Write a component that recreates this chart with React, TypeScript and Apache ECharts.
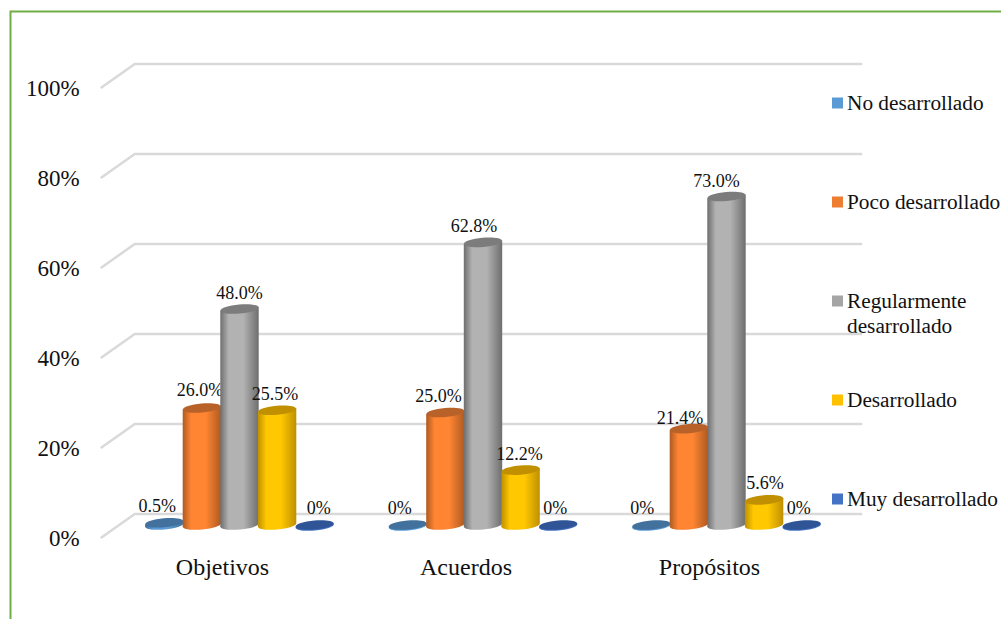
import React, { useEffect, useRef } from "react";
import * as echarts from "echarts";

const categories = ["Objetivos", "Acuerdos", "Propósitos"];
const yTicks = [0, 20, 40, 60, 80, 100];
const noDesarrollado = [0.5, 0, 0];
const pocoDesarrollado = [26.0, 25.0, 21.4];
const regularmenteDesarrollado = [48.0, 62.8, 73.0];
const desarrollado = [25.5, 12.2, 5.6];
const muyDesarrollado = [0, 0, 0];

const SERIF = "'Liberation Serif', 'Times New Roman', serif";

// Depth of the pseudo-3D floor: the bars stand half way along it.
const DEPTH_X = 34;
const DEPTH_Y = 24;
const WALL_TRIM = 3;
const SLOT = 37.6;
const RX = 19.2;
const RY = 4.6;
const TILT = 0.085;

type Look = {
  name: string;
  values: number[];
  swatch: string;
  edge: string;
  mid: string;
  cap: string;
  rim: string;
  legendY: number;
  nudges: [number, number][];
};

const looks: Look[] = [
  {
    name: "No desarrollado",
    values: noDesarrollado,
    swatch: "#5B9BD5",
    edge: "#41719C",
    mid: "#5B9BD5",
    cap: "#41719C",
    rim: "#5B9BD5",
    legendY: 103,
    nudges: [[-7, -17], [-8, -17], [-9, -17]],
  },
  {
    name: "Poco desarrollado",
    values: pocoDesarrollado,
    swatch: "#ED7D31",
    edge: "#AE5A21",
    mid: "#FF8533",
    cap: "#B8622A",
    rim: "#AE5A21",
    legendY: 202,
    nudges: [[-2, -18], [-7, -17], [-9, -11]],
  },
  {
    name: "Regularmente\ndesarrollado",
    values: regularmenteDesarrollado,
    swatch: "#A5A5A5",
    edge: "#6E6E6E",
    mid: "#B2B2B2",
    cap: "#7C7C7C",
    rim: "#6E6E6E",
    legendY: 301,
    nudges: [[0, -16], [-9, -16], [-10, -16]],
  },
  {
    name: "Desarrollado",
    values: desarrollado,
    swatch: "#FFC000",
    edge: "#BF9000",
    mid: "#FFC800",
    cap: "#C09000",
    rim: "#BF9000",
    legendY: 400,
    nudges: [[-2, -16], [-1, -16], [1, -17]],
  },
  {
    name: "Muy desarrollado",
    values: muyDesarrollado,
    swatch: "#4472C4",
    edge: "#2F5597",
    mid: "#4472C4",
    cap: "#2F5597",
    rim: "#4472C4",
    legendY: 499,
    nudges: [[4, -17], [-3, -17], [-3, -17]],
  },
];

const formatValue = (v: number) => (v === 0 ? "0%" : `${v.toFixed(1)}%`);

// Floor lines and back-wall rules, one bent line per value tick.
function renderGridLine(params: any, api: any) {
  const sys = params.coordSys;
  const y = api.coord([0, api.value(1)])[1];
  return {
    type: "polyline",
    silent: true,
    shape: {
      points: [
        [sys.x, y],
        [sys.x + DEPTH_X, y - DEPTH_Y],
        [sys.x + sys.width + DEPTH_X - WALL_TRIM, y - DEPTH_Y],
      ],
    },
    style: { stroke: "#D9D9D9", lineWidth: 2.5, fill: "none" },
  };
}

// Cylinder built from a bottom disc, a shaded body and a darker top disc.
function cylinderRenderer(look: Look, slotIndex: number) {
  return (params: any, api: any) => {
    const value = api.value(1);
    const cat = api.value(0);
    const base = api.coord([cat, 0]);
    const top = api.coord([cat, value]);
    const cx = base[0] + DEPTH_X / 2 + (slotIndex - 2) * SLOT;
    const yBase = base[1] - DEPTH_Y / 2 - 1;
    const yTop = top[1] - DEPTH_Y / 2 - 1;
    const lift = Math.sin(TILT) * RX;
    const shade = new echarts.graphic.LinearGradient(0, 0, 1, 0, [
      { offset: 0, color: look.edge },
      { offset: 0.22, color: look.mid },
      { offset: 0.6, color: look.mid },
      { offset: 1, color: look.edge },
    ]);
    const disc = (cy: number, fill: any) => ({
      type: "ellipse",
      x: cx,
      y: cy,
      rotation: TILT,
      shape: { cx: 0, cy: 0, rx: RX, ry: RY },
      style: { fill },
    });
    const [dx, dy] = look.nudges[params.dataIndex];
    return {
      type: "group",
      silent: true,
      children: [
        disc(yBase + (value === 0 ? 1 : 0), value === 0 ? look.rim : shade),
        {
          type: "polygon",
          shape: {
            points: [
              [cx - RX, yTop + lift],
              [cx + RX, yTop - lift],
              [cx + RX, yBase - lift],
              [cx - RX, yBase + lift],
            ],
          },
          style: { fill: shade },
        },
        disc(yTop, look.cap),
        {
          type: "text",
          x: cx + dx,
          y: yTop + dy,
          style: {
            text: formatValue(value),
            font: `18px ${SERIF}`,
            fill: "#111",
            align: "center",
            verticalAlign: "middle",
          },
        },
      ],
    };
  };
}

export default function App() {
  const ref = useRef<HTMLDivElement>(null);

  useEffect(() => {
    const chart = echarts.init(ref.current!, null, { renderer: "svg" });
    chart.setOption({
      animation: false,
      backgroundColor: "#fff",
      grid: { left: 100.75, top: 88, width: 730.5, height: 450 },
      xAxis: {
        type: "category",
        data: categories,
        axisLine: { show: false },
        axisTick: { show: false },
        axisLabel: { margin: 17, color: "#111", fontFamily: SERIF, fontSize: 24 },
      },
      yAxis: {
        type: "value",
        min: 0,
        max: 100,
        interval: 20,
        axisLine: { show: false },
        axisTick: { show: false },
        splitLine: { show: false },
        axisLabel: {
          margin: 21,
          color: "#111",
          fontFamily: SERIF,
          fontSize: 23,
          formatter: (v: number) => `${v}%`,
        },
      },
      series: [
        {
          type: "custom",
          name: "grid",
          clip: false,
          renderItem: renderGridLine,
          encode: { x: 0, y: 1 },
          data: yTicks.map((t) => [0, t]),
        },
        ...looks.map((look, i) => ({
          type: "custom",
          name: look.name,
          clip: false,
          renderItem: cylinderRenderer(look, i),
          encode: { x: 0, y: 1 },
          data: look.values.map((v, c) => [c, v]),
        })),
      ],
      graphic: [
        // Green frame: only its top and left sides fall inside the page.
        {
          type: "polyline",
          silent: true,
          shape: { points: [[10.5, 619], [10.5, 11.5], [1001, 11.5]] },
          style: { stroke: "#70AD47", lineWidth: 2, fill: "none" },
        },
        ...looks.flatMap((look) => [
          {
            type: "rect",
            silent: true,
            shape: { x: 832, y: look.legendY - 5.5, width: 11, height: 11 },
            style: { fill: look.swatch },
          },
          {
            type: "text",
            silent: true,
            x: 847,
            y: look.legendY - 12.5,
            style: {
              text: look.name,
              font: `21.3px ${SERIF}`,
              fill: "#111",
              lineHeight: 25,
              align: "left",
              verticalAlign: "top",
            },
          },
        ]),
      ],
    });
    return () => chart.dispose();
  }, []);

  return (
    <div
      ref={ref}
      style={{ position: "fixed", left: 0, top: 0, width: 1001, height: 619 }}
    />
  );
}
